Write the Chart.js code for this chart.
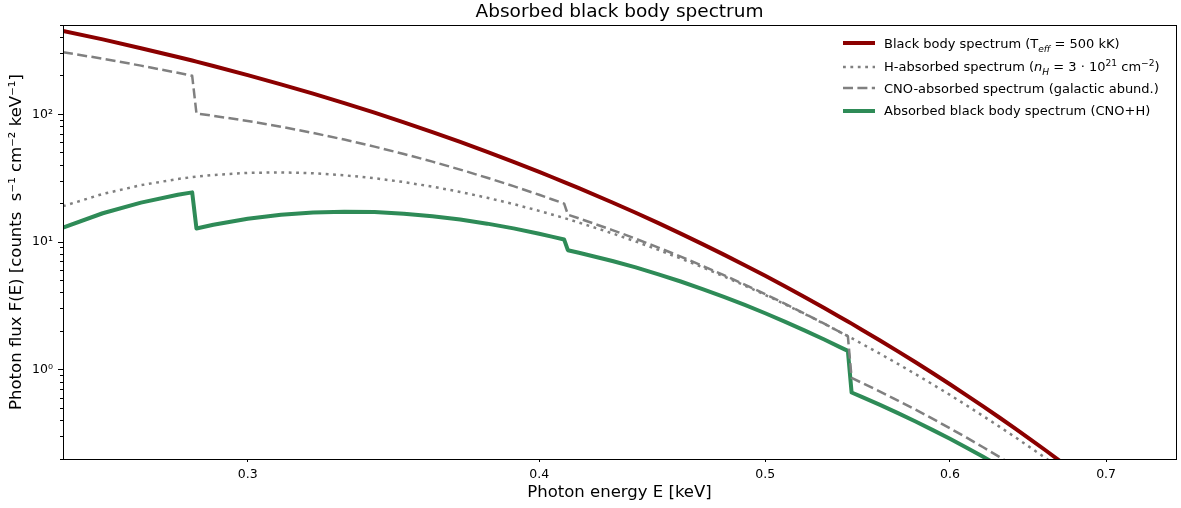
<!DOCTYPE html>
<html>
<head>
<meta charset="utf-8">
<script src="https://cdn.jsdelivr.net/npm/chart.js@4.4.0/dist/chart.umd.min.js"></script>
<style>
  body { margin: 0; background: #fff; }
  #wrap { position: relative; width: 1181px; height: 508px; font-family: "DejaVu Sans", sans-serif; }
  #chart { position: absolute; left: 0; top: 0; }
  .row { position: absolute; left: 843px; height: 22px; display: flex; align-items: center;
         white-space: nowrap; font-size: 13px; color: #000; }
  .row svg { width: 32px; height: 10px; margin-right: 9px; }
  sub, sup { font-size: 70%; line-height: 0; }
</style>
</head>
<body>
<div id="wrap">
  <canvas id="chart" width="1181" height="508"></canvas>
  <div class="row" style="top:32px">
    <svg><line x1="0" y1="5" x2="32" y2="5" stroke="#8b0000" stroke-width="4"/></svg>
    <span>Black body spectrum (T<sub><i>eff</i></sub> = 500 kK)</span>
  </div>
  <div class="row" style="top:55.5px">
    <svg><line x1="0" y1="5" x2="32" y2="5" stroke="#808080" stroke-width="2.5" stroke-dasharray="2.8 4.6"/></svg>
    <span>H-absorbed spectrum (<i>n</i><sub><i>H</i></sub> = 3 · 10<sup>21</sup> cm<sup>−2</sup>)</span>
  </div>
  <div class="row" style="top:77px">
    <svg><line x1="0" y1="5" x2="32" y2="5" stroke="#808080" stroke-width="2.5" stroke-dasharray="10 4.4"/></svg>
    <span>CNO-absorbed spectrum (galactic abund.)</span>
  </div>
  <div class="row" style="top:99.5px">
    <svg><line x1="0" y1="5" x2="32" y2="5" stroke="#2e8b57" stroke-width="4"/></svg>
    <span>Absorbed black body spectrum (CNO+H)</span>
  </div>
</div>
<script>
// photon energies in keV (extra points around the C, N and O edges)
const energies = [0.25, 0.26, 0.27, 0.28, 0.284, 0.2852, 0.29, 0.30, 0.31, 0.32,
  0.33, 0.34, 0.35, 0.36, 0.37, 0.38, 0.39, 0.40, 0.405, 0.41,
  0.4115, 0.416, 0.43, 0.44, 0.45, 0.46, 0.47, 0.48, 0.49, 0.50,
  0.51, 0.52, 0.53, 0.538, 0.5425, 0.5445, 0.55, 0.56, 0.57, 0.58,
  0.59, 0.60, 0.61, 0.62, 0.63, 0.64, 0.65, 0.66, 0.68, 0.70,
  0.75];

const blackBody = [450, 385.8, 329.2, 281.0, 263.4, 258.3, 239.0, 202.7, 171.6, 145.0,
  122.2, 102.9, 86.44, 72.51, 60.73, 50.79, 42.42, 35.39, 32.27, 29.48,
  28.68, 26.38, 20.39, 16.93, 14.04, 11.63, 9.63, 7.964, 6.581, 5.433,
  4.482, 3.695, 3.044, 2.602, 2.386, 2.296, 2.059, 1.694, 1.392, 1.143,
  0.9376, 0.769, 0.6302, 0.516, 0.4226, 0.346, 0.2829, 0.231, 0.154, 0.103,
  0.037];

const hAbsorbed = [19.08, 23.77, 27.85, 31.16, 32.21, 32.49, 33.48, 34.76, 35.08, 34.55,
  33.30, 31.58, 29.46, 27.11, 24.66, 22.20, 19.81, 17.53, 16.43, 15.41,
  15.10, 14.20, 11.68, 10.09, 8.672, 7.423, 6.332, 5.382, 4.560, 3.852,
  3.246, 2.728, 2.288, 1.982, 1.831, 1.767, 1.598, 1.334, 1.110, 0.923,
  0.7657, 0.635, 0.5253, 0.434, 0.3586, 0.296, 0.2439, 0.201, 0.136, 0.091,
  0.034];

const cnoAbsorbed = [305.9, 272.5, 240.3, 211.1, 200.1, 101.4, 97.32, 88.59, 79.90, 71.43,
  63.35, 55.83, 48.89, 42.58, 36.90, 31.84, 27.36, 23.43, 21.62, 19.98,
  16.38, 15.31, 12.40, 10.61, 9.045, 7.683, 6.513, 5.504, 4.640, 3.902,
  3.275, 2.744, 2.294, 1.983, 1.830, 0.862, 0.790, 0.674, 0.5739, 0.487,
  0.4124, 0.348, 0.2938, 0.247, 0.2076, 0.174, 0.1457, 0.122, 0.085, 0.059,
  0.023];

const absorbed = [12.97, 16.79, 20.33, 23.41, 24.47, 12.76, 13.63, 15.19, 16.33, 17.02,
  17.26, 17.14, 16.66, 15.92, 14.98, 13.92, 12.78, 11.60, 11.01, 10.45,
  8.625, 8.243, 7.104, 6.323, 5.587, 4.904, 4.282, 3.719, 3.215, 2.767,
  2.372, 2.026, 1.724, 1.511, 1.404, 0.663, 0.613, 0.531, 0.4576, 0.393,
  0.3368, 0.288, 0.2449, 0.208, 0.1761, 0.149, 0.1256, 0.106, 0.074, 0.052,
  0.021];

const xTicks = [0.3, 0.4, 0.5, 0.6, 0.7];
const yTicks = [0.2, 0.3, 0.4, 0.5, 0.6, 0.7, 0.8, 0.9,
  1, 2, 3, 4, 5, 6, 7, 8, 9,
  10, 20, 30, 40, 50, 60, 70, 80, 90,
  100, 200, 300, 400, 500];
const yTickLabels = { 1: "10⁰", 10: "10¹", 100: "10²" };

const FONT = "'DejaVu Sans', sans-serif";
Chart.defaults.font.family = FONT;
Chart.defaults.color = "#000";

const toPoints = ys => energies.map((e, i) => ({ x: e, y: ys[i] }));

// box around the plot area + title centred over the axes
const frame = {
  id: "frame",
  afterDraw(chart) {
    const { ctx, chartArea: a } = chart;
    ctx.save();
    ctx.strokeStyle = "#000";
    ctx.lineWidth = 1;
    ctx.strokeRect(Math.round(a.left) + 0.5, Math.round(a.top) + 0.5,
      Math.round(a.right - a.left), Math.round(a.bottom - a.top));
    ctx.fillStyle = "#000";
    ctx.font = "18.5px " + FONT;
    ctx.textAlign = "center";
    ctx.textBaseline = "middle";
    ctx.fillText("Absorbed black body spectrum", (a.left + a.right) / 2, 12);
    ctx.restore();
  }
};

new Chart(document.getElementById("chart"), {
  type: "line",
  data: {
    datasets: [
      { label: "Black body spectrum", data: toPoints(blackBody), borderColor: "#8b0000", borderWidth: 4 },
      { label: "H-absorbed spectrum", data: toPoints(hAbsorbed), borderColor: "#808080", borderWidth: 2.5, borderDash: [2.8, 4.6] },
      { label: "CNO-absorbed spectrum", data: toPoints(cnoAbsorbed), borderColor: "#808080", borderWidth: 2.5, borderDash: [10, 4.4] },
      { label: "Absorbed black body spectrum", data: toPoints(absorbed), borderColor: "#2e8b57", borderWidth: 4 }
    ]
  },
  options: {
    responsive: false,
    animation: false,
    devicePixelRatio: 1,
    layout: { padding: { top: 25, right: 5, left: 0, bottom: 0 } },
    elements: {
      point: { radius: 0 },
      line: { tension: 0, fill: false, borderCapStyle: "butt", borderJoinStyle: "round" }
    },
    datasets: { line: { clip: 0 } },
    plugins: { legend: { display: false }, tooltip: { enabled: false } },
    scales: {
      x: {
        type: "logarithmic",
        min: 0.25,
        max: 0.75,
        bounds: "data",
        afterBuildTicks: s => { s.ticks = xTicks.map(v => ({ value: v })); },
        afterFit: s => { s.height = 49; },
        ticks: { autoSkip: false, maxRotation: 0, padding: 5, font: { size: 12.5 }, callback: v => v.toFixed(1) },
        grid: { drawOnChartArea: false, tickLength: 3, tickColor: "#000", color: "#000" },
        border: { color: "#000", width: 1 },
        title: { display: true, text: "Photon energy E [keV]", font: { size: 16.5 }, padding: { top: 0, bottom: 5 } }
      },
      y: {
        type: "logarithmic",
        min: 0.2,
        max: 500,
        bounds: "data",
        afterBuildTicks: s => { s.ticks = yTicks.map(v => ({ value: v })); },
        afterFit: s => { s.width = 63; },
        ticks: { autoSkip: false, padding: 5, font: { size: 12.5 }, callback: v => yTickLabels[v] || "" },
        grid: {
          drawOnChartArea: false,
          tickLength: 5,
          tickColor: "#000",
          color: "#000",
          tickBorderDash: c => (c.tick && yTickLabels[c.tick.value]) ? [] : [0, 2, 3, 10]
        },
        border: { color: "#000", width: 1 },
        title: { display: true, text: "Photon flux F(E) [counts  s⁻¹ cm⁻² keV⁻¹]", font: { size: 16.5 }, padding: { top: 7, bottom: 0 } }
      }
    }
  },
  plugins: [frame]
});
</script>
</body>
</html>
